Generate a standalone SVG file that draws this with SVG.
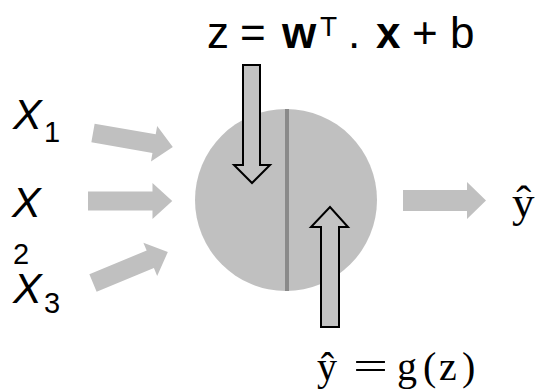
<svg xmlns="http://www.w3.org/2000/svg" xmlns:xlink="http://www.w3.org/1999/xlink" width="536" height="390" viewBox="0 0 536 390">
<style>
.bg{fill:#ffffff}
.blk{fill:#c0c0c0}
.outl{fill:#c3c3c3;stroke:#000;stroke-width:2;stroke-linejoin:miter}
.var{font-family:"Liberation Sans",Arial,sans-serif;font-style:italic;font-size:43px;fill:#000}
.sub{font-family:"Liberation Sans",Arial,sans-serif;font-size:29px;fill:#000}
.eq{font-family:"Liberation Sans",Arial,sans-serif;font-size:44px;fill:#000}
.sup{font-size:28px}
.math{font-family:"Liberation Serif","DejaVu Serif",serif;font-size:40px;fill:#000}
.big{font-size:45px}
</style>
<defs>
<path id="fat" d="M0,-9.5 H62 V-18 L81,0 L62,18 V9.5 H0 Z"/>
</defs>
<rect class="bg" x="0" y="0" width="536" height="390"/>
<g id="input-x1">
<text class="var" x="13" y="129">X</text>
<text class="sub" x="44" y="142">1</text>
</g>
<g id="input-x2">
<text class="var" x="12" y="217">X</text>
<text class="sub" x="13" y="264">2</text>
</g>
<g id="input-x3">
<text class="var" x="13" y="303">X</text>
<text class="sub" x="44" y="313">3</text>
</g>
<g id="neuron">
<circle class="blk" cx="286" cy="200" r="91"/>
<line x1="287" y1="109" x2="287" y2="291" stroke="#8a8a8a" stroke-width="4"/>
</g>
<g id="output">
<text class="math big" x="512" y="217">ŷ</text>
</g>
<g id="label-z">
<text class="eq" y="48"><tspan x="207">z</tspan><tspan x="240">=</tspan><tspan x="282" font-weight="bold">w</tspan><tspan class="sup" x="320" y="36">T</tspan><tspan x="348" y="48">.</tspan><tspan x="376" font-weight="bold">x</tspan><tspan x="412">+</tspan><tspan x="450">b</tspan></text>
</g>
<g id="label-g">
<text class="math" y="380"><tspan x="317">ŷ</tspan><tspan x="353" textLength="35" lengthAdjust="spacingAndGlyphs">=</tspan><tspan x="397">g</tspan><tspan x="423">(</tspan><tspan x="439">z</tspan><tspan x="462">)</tspan></text>
</g>
<g id="connectors">
<use xlink:href="#fat" class="blk" transform="translate(93,133) rotate(9.9)"/>
<use xlink:href="#fat" class="blk" transform="translate(88,201) scale(1.04,1)"/>
<use xlink:href="#fat" class="blk" transform="translate(93,283) rotate(-22.5)"/>
<path class="blk" d="M403,190 H467 V182 L486,200.5 L467,219 V211 H403 Z"/>
<path class="outl" d="M243,65 H260 V165 H270 L252,183 L234,165 H243 Z"/>
<path class="outl" d="M321,327 H339 V227 H348 L330,207 L311,227 H321 Z"/>
</g>
</svg>
